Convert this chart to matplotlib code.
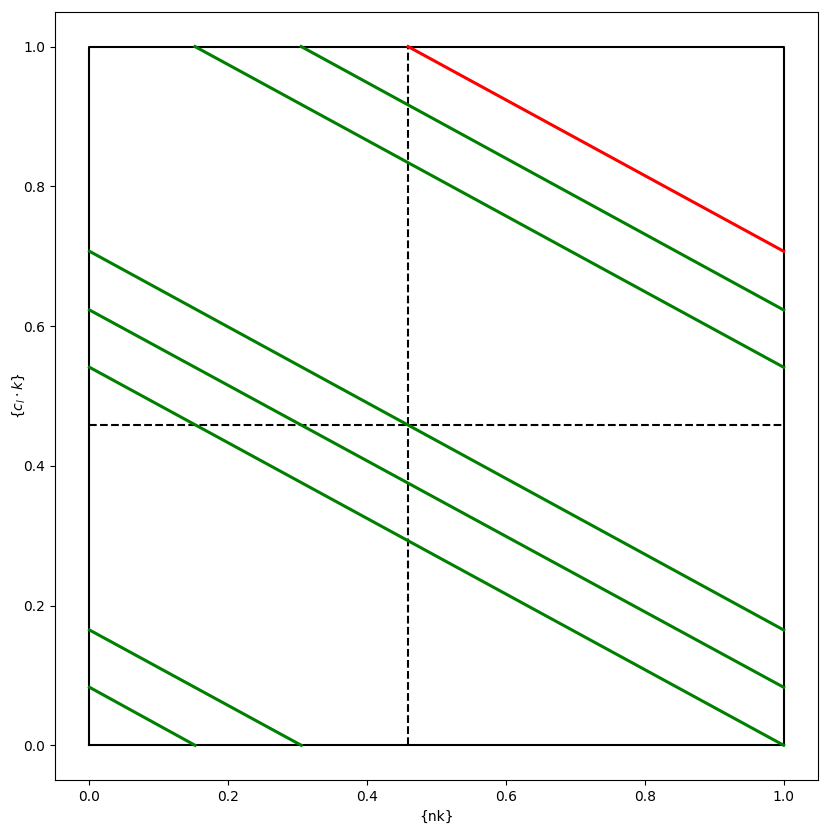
from matplotlib import pyplot as plt

split = 0.459

# segment endpoints
green_x0 = [0.0, 0.0, 0.0, 0.0, 0.0, 0.152, 0.305]
green_y0 = [0.083, 0.165, 0.541, 0.623, 0.707, 1.0, 1.0]
green_x1 = [0.152, 0.305, 1.0, 1.0, 1.0, 1.0, 1.0]
green_y1 = [0.0, 0.0, 0.0, 0.083, 0.165, 0.541, 0.623]

red_x = [0.459, 1.0]
red_y = [1.0, 0.707]

box_x = [0, 1, 1, 0, 0]
box_y = [0, 0, 1, 1, 0]

fig = plt.figure(figsize=(8.3, 8.3), dpi=100)
ax = fig.add_subplot(111)

ax.plot(box_x, box_y, c='black', lw=1.5)
ax.plot([split, split], [0, 1], '--', c='black', lw=1.5)
ax.plot([0, 1], [split, split], '--', c='black', lw=1.5)

for i in range(len(green_x0)):
    ax.plot([green_x0[i], green_x1[i]], [green_y0[i], green_y1[i]], c='green', lw=2.2)
ax.plot(red_x, red_y, c='red', lw=2.2)

ax.set_xlabel('{nk}')
ax.set_ylabel(r'{$c_l \cdot k$}', labelpad=-2.5)
fig.subplots_adjust(left=0.066, right=0.986, top=0.986, bottom=0.06)
fig.savefig('out.png')
